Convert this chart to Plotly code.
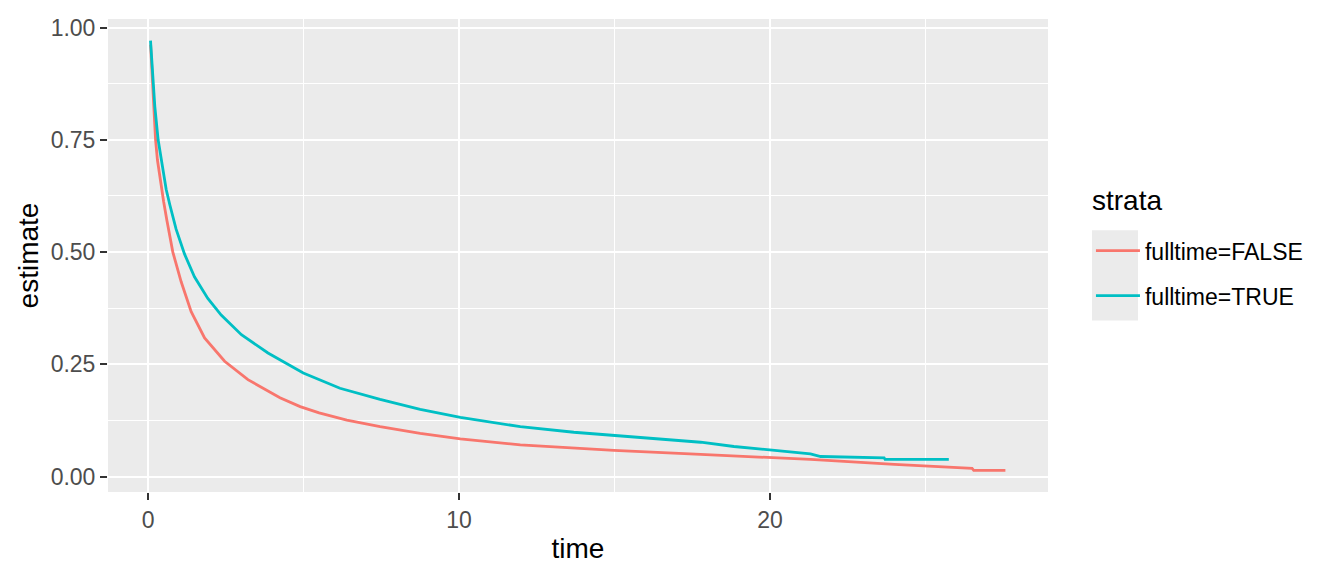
import plotly.graph_objects as go

# curvas de supervivencia
time_false = [0.08, 0.16, 0.24, 0.30, 0.40, 0.50, 0.60, 0.795, 1.063, 1.385, 1.816, 2.46,
              3.21, 3.855, 4.24, 4.89, 5.5, 6.39, 7.46, 8.75, 10.04, 11.97, 13.69, 14.98,
              17.77, 20.0, 21.3, 24.0, 25.95, 26.5, 26.55, 27.57]
est_false = [0.962, 0.860, 0.750, 0.705, 0.655, 0.612, 0.572, 0.500, 0.434, 0.3675, 0.309,
             0.257, 0.216, 0.190, 0.176, 0.156, 0.142, 0.126, 0.1115, 0.0967, 0.0843, 0.071,
             0.0636, 0.0585, 0.0497, 0.0437, 0.0386, 0.0276, 0.0195, 0.0184, 0.0143, 0.0143]

time_true = [0.077, 0.216, 0.322, 0.45, 0.58, 0.70, 0.90, 1.17, 1.49, 1.92, 2.35, 3.0, 3.855,
             4.99, 6.17, 7.46, 8.75, 10.04, 11.97, 13.69, 14.98, 17.77, 18.84, 20.0, 21.3,
             21.63, 23.67, 23.7, 25.75]
est_true = [0.971, 0.824, 0.750, 0.690, 0.640, 0.605, 0.551, 0.496, 0.445, 0.397, 0.360,
            0.316, 0.2755, 0.231, 0.197, 0.172, 0.150, 0.132, 0.1115, 0.099, 0.0916, 0.0768,
            0.0673, 0.060, 0.051, 0.045, 0.042, 0.0386, 0.0386]

strata = ['fulltime=FALSE', 'fulltime=TRUE']
colores = ['#F8766D', '#00BFC4']

fig = go.Figure()
fig.add_trace(go.Scatter(x=time_false, y=est_false, mode='lines', name=strata[0],
                         legendgroup='a', line=dict(color=colores[0], width=2.8)))
fig.add_trace(go.Scatter(x=time_true, y=est_true, mode='lines', name=strata[1],
                         legendgroup='b', line=dict(color=colores[1], width=2.8)))

fuente = 'Liberation Sans, Arial, sans-serif'

# fondo gris de las claves de la leyenda (como ggplot)
fig.add_shape(type='rect', xref='paper', yref='paper',
              x0=1.0468, x1=1.0957, y0=0.3627, y1=0.5535,
              fillcolor='#EBEBEB', line_width=0, layer='below')

# titulo de la leyenda
fig.add_annotation(text='strata', xref='paper', yref='paper', x=1.0448, y=0.616,
                   xanchor='left', yanchor='middle', showarrow=False,
                   font=dict(size=28, color='black', family=fuente))

# la pagina tiene 8px de margen en el body, se compensa en los margenes
fig.update_layout(
    width=1344, height=576,
    margin=dict(l=100, r=304, t=7, b=92),
    paper_bgcolor='white',
    plot_bgcolor='#EBEBEB',
    font=dict(family=fuente, color='black'),
    showlegend=True,
    legend=dict(
        font=dict(size=23, color='black'),
        x=1.0457, xanchor='left', y=0.5556, yanchor='top',
        itemwidth=44, tracegroupgap=12,
        bgcolor='rgba(0,0,0,0)',
    ),
    xaxis=dict(
        range=[-1.29, 28.94], tickmode='linear', tick0=0, dtick=10,
        showgrid=True, gridcolor='white', gridwidth=2.1, zeroline=False,
        minor=dict(dtick=5, tick0=0, showgrid=True, gridcolor='white', gridwidth=1.05),
        ticks='outside', ticklen=7, tickwidth=2, tickcolor='#333333',
        tickfont=dict(size=23, color='#4D4D4D'),
        title=dict(text='time', font=dict(size=28, color='black'), standoff=6),
    ),
    yaxis=dict(
        range=[-0.034, 1.019], tickmode='linear', tick0=0, dtick=0.25, tickformat='.2f',
        showgrid=True, gridcolor='white', gridwidth=2.1, zeroline=False,
        minor=dict(dtick=0.125, tick0=0, showgrid=True, gridcolor='white', gridwidth=1.05),
        ticks='outside', ticklen=7, tickwidth=2, tickcolor='#333333',
        tickfont=dict(size=23, color='#4D4D4D'),
        title=dict(text='estimate', font=dict(size=28, color='black'), standoff=3),
    ),
)

fig.write_html("out.html")
